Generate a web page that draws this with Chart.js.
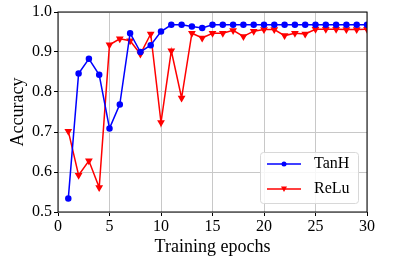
<!DOCTYPE html>
<html>
<head>
<meta charset="utf-8">
<script src="https://cdn.jsdelivr.net/npm/chart.js@4/dist/chart.umd.min.js"></script>
<style>
  html, body { margin: 0; padding: 0; background: #fff; }
  #wrap { width: 399px; height: 260px; }
</style>
</head>
<body>
<div id="wrap"><canvas id="c" width="399" height="260"></canvas></div>
<script>
// epochs 1..30
const epochs = [1,2,3,4,5,6,7,8,9,10,11,12,13,14,15,16,17,18,19,20,21,22,23,24,25,26,27,28,29,30];
const tanh = [0.534,0.846,0.883,0.843,0.709,0.769,0.947,0.900,0.917,0.951,
              0.968,0.968,0.964,0.960,0.968,0.968,0.968,0.968,0.968,0.968,
              0.968,0.968,0.968,0.968,0.968,0.968,0.968,0.968,0.968,0.968];
const relu = [0.702,0.592,0.628,0.561,0.918,0.933,0.928,0.895,0.945,0.724,
              0.903,0.785,0.947,0.935,0.947,0.947,0.954,0.939,0.952,0.956,
              0.956,0.941,0.947,0.945,0.957,0.957,0.957,0.956,0.956,0.957];
const xTicks = [0,5,10,15,20,25,30];
const yTicks = [0.5,0.6,0.7,0.8,0.9,1.0];

const serif = "'Liberation Serif', 'DejaVu Serif', serif";

// legend drawn inside the plot, bottom right
const boxLegend = {
  id: 'boxLegend',
  afterDraw(chart) {
    const {ctx, chartArea} = chart;
    const w = 98, h = 51;
    const x0 = Math.round(chartArea.right) - w - 9, y0 = Math.round(chartArea.bottom) - h - 9;
    ctx.save();
    ctx.fillStyle = 'rgba(255,255,255,0.85)';
    ctx.strokeStyle = '#d8d8d8';
    ctx.lineWidth = 1;
    ctx.beginPath();
    ctx.roundRect(x0 + 0.5, y0 + 0.5, w, h, 3);
    ctx.fill();
    ctx.stroke();
    ctx.font = '16px ' + serif;
    ctx.textBaseline = 'middle';
    chart.data.datasets.forEach((ds, i) => {
      const yy = y0 + 12 + i * 25;
      ctx.strokeStyle = ds.borderColor;
      ctx.lineWidth = 1.5;
      ctx.beginPath();
      ctx.moveTo(x0 + 7, yy);
      ctx.lineTo(x0 + 41, yy);
      ctx.stroke();
      ctx.fillStyle = ds.borderColor;
      ctx.beginPath();
      if (i === 0) {
        ctx.arc(x0 + 24, yy, 2.5, 0, Math.PI * 2);
      } else {
        ctx.moveTo(x0 + 21, yy - 2.5);
        ctx.lineTo(x0 + 27, yy - 2.5);
        ctx.lineTo(x0 + 24, yy + 3);
        ctx.closePath();
      }
      ctx.fill();
      ctx.fillStyle = '#000';
      ctx.fillText(ds.label, x0 + 54, yy);
    });
    ctx.restore();
  }
};

// black frame around the plot area
const frame = {
  id: 'frame',
  afterDatasetsDraw(chart) {
    const {ctx, chartArea: a} = chart;
    ctx.save();
    ctx.strokeStyle = '#000';
    ctx.lineWidth = 1;
    ctx.strokeRect(a.left, a.top, a.right - a.left, a.bottom - a.top);
    ctx.restore();
  }
};

new Chart(document.getElementById('c'), {
  type: 'line',
  data: {
    labels: epochs,
    datasets: [
      {
        label: 'TanH',
        data: epochs.map((e, i) => ({x: e, y: tanh[i]})),
        borderColor: '#0000ff',
        backgroundColor: '#0000ff',
        borderWidth: 1.5,
        pointRadius: 2.5,
        pointStyle: 'circle',
        tension: 0
      },
      {
        label: 'ReLu',
        data: epochs.map((e, i) => ({x: e, y: relu[i]})),
        borderColor: '#ff0000',
        backgroundColor: '#ff0000',
        borderWidth: 1.5,
        pointRadius: 3,
        pointStyle: 'triangle',
        rotation: 180,
        tension: 0
      }
    ]
  },
  options: {
    responsive: false,
    animation: false,
    layout: { padding: { top: 12, right: 32, left: 0, bottom: 0 } },
    plugins: { legend: { display: false }, tooltip: { enabled: false } },
    scales: {
      x: {
        type: 'linear',
        min: 0, max: 30,
        afterBuildTicks: s => { s.ticks = xTicks.map(v => ({value: v})); },
        afterFit: s => { s.height = 48; },
        grid: { color: '#c8c8c8', lineWidth: 1, tickLength: 4, tickColor: '#000' },
        border: { display: false },
        ticks: { color: '#000', font: { family: serif, size: 16 }, padding: 1, maxRotation: 0 },
        title: { display: true, text: 'Training epochs', color: '#000', font: { family: serif, size: 18 }, padding: { top: -4, bottom: 2 } }
      },
      y: {
        min: 0.5, max: 1.0,
        afterBuildTicks: s => { s.ticks = yTicks.map(v => ({value: v})); },
        afterFit: s => { s.width = 58; },
        grid: { color: '#c8c8c8', lineWidth: 1, tickLength: 4, tickColor: '#000' },
        border: { display: false },
        ticks: { color: '#000', font: { family: serif, size: 16 }, padding: 2, callback: v => v.toFixed(1) },
        title: { display: true, text: 'Accuracy', color: '#000', font: { family: serif, size: 18 }, padding: { top: 7, bottom: 0 } }
      }
    }
  },
  plugins: [frame, boxLegend]
});
</script>
</body>
</html>
